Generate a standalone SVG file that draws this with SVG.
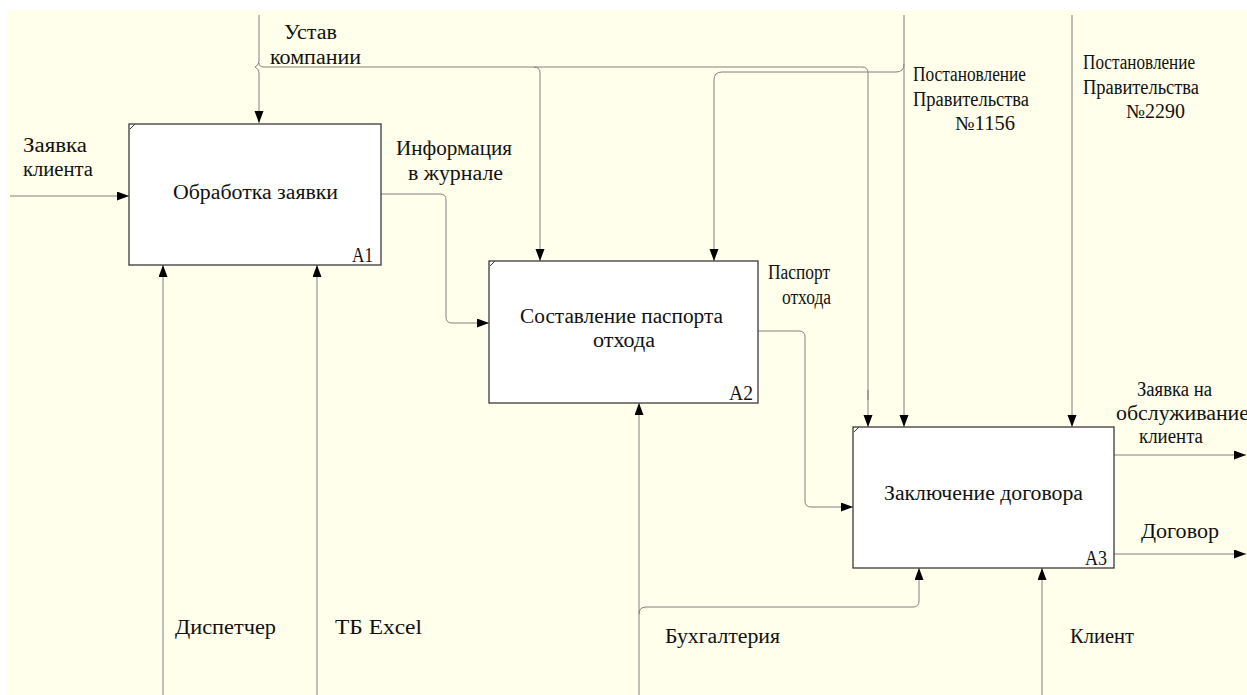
<svg xmlns="http://www.w3.org/2000/svg" width="1247" height="695" viewBox="0 0 1247 695">
  <style>
    .bg { fill: #ffffeb; }
    .box { fill: #ffffff; stroke: #3a3a3a; stroke-width: 1.3; }
    .tick { stroke: #3a3a3a; stroke-width: 1; fill: none; }
    .ln { fill: none; stroke: #808080; stroke-width: 1; }
    .arr { fill: none; stroke: #808080; stroke-width: 1; marker-end: url(#ah); }
    text { font-family: "Liberation Serif", "Times New Roman", serif; font-size: 20px; fill: #111111; }
  </style>
  <defs>
    <marker id="ah" markerUnits="userSpaceOnUse" markerWidth="12" markerHeight="10" refX="12" refY="4.5" orient="auto">
      <path d="M0,0 L12,4.5 L0,9 Z" fill="#000000"/>
    </marker>
  </defs>

  <rect x="0" y="0" width="1247" height="695" fill="#ffffff"/>
  <rect class="bg" x="7" y="10" width="1240" height="685"/>

  <!-- connectors -->
  <g id="connectors">
    <!-- inputs / outputs -->
    <path class="arr" d="M10,196 H129"/>
    <path class="arr" d="M381,194 H440 Q446,194 446,200 V317 Q446,323 452,323 H489"/>
    <path class="arr" d="M758,331 H799 Q805,331 805,337 V501 Q805,507 811,507 H853"/>
    <path class="arr" d="M1114,455 H1246"/>
    <path class="arr" d="M1114,554 H1246"/>

    <!-- controls -->
    <path class="arr" d="M259,15 V61 Q259,65 255,67 Q259,69 259,73 V123"/>
    <path class="ln" d="M259,63 Q259,67 264,67 H862 Q868,67 868,73 V400"/>
    <path class="arr" d="M868,390 V427"/>
    <path class="arr" d="M534,67 Q540,67 540,73 V261"/>
    <path class="arr" d="M904,15 V427"/>
    <path class="arr" d="M904,64 Q904,72 896,72 H722 Q714,72 714,80 V261"/>
    <path class="arr" d="M1072,15 V427"/>

    <!-- mechanisms -->
    <path class="arr" d="M163,695 V265"/>
    <path class="arr" d="M317,695 V265"/>
    <path class="arr" d="M639,695 V403"/>
    <path class="arr" d="M639,614 Q639,607 646,607 H913 Q919,607 919,601 V568"/>
    <path class="arr" d="M1042,695 V568"/>
  </g>

  <!-- nodes -->
  <g id="A1">
    <rect class="box" x="129" y="124" width="252" height="141"/>
    <path class="tick" d="M130,129 L135,124"/>
    <text x="173" y="199" textLength="165" lengthAdjust="spacingAndGlyphs">Обработка заявки</text>
    <text x="352" y="262" textLength="21" lengthAdjust="spacingAndGlyphs">A1</text>
  </g>
  <g id="A2">
    <rect class="box" x="489" y="261" width="269" height="142"/>
    <path class="tick" d="M490,266 L495,261"/>
    <text x="520" y="323" textLength="203" lengthAdjust="spacingAndGlyphs">Составление паспорта</text>
    <text x="593" y="347" textLength="62" lengthAdjust="spacingAndGlyphs">отхода</text>
    <text x="729" y="400" textLength="24" lengthAdjust="spacingAndGlyphs">A2</text>
  </g>
  <g id="A3">
    <rect class="box" x="853" y="427" width="261" height="141"/>
    <path class="tick" d="M854,432 L859,427"/>
    <text x="884" y="500" textLength="199" lengthAdjust="spacingAndGlyphs">Заключение договора</text>
    <text x="1085" y="565" textLength="22" lengthAdjust="spacingAndGlyphs">A3</text>
  </g>

  <!-- arrow labels -->
  <g id="labels">
    <text x="284" y="39" textLength="53" lengthAdjust="spacingAndGlyphs">Устав</text>
    <text x="270" y="64" textLength="91" lengthAdjust="spacingAndGlyphs">компании</text>
    <text x="23" y="152" textLength="64" lengthAdjust="spacingAndGlyphs">Заявка</text>
    <text x="23" y="176" textLength="70" lengthAdjust="spacingAndGlyphs">клиента</text>
    <text x="396" y="155" textLength="116" lengthAdjust="spacingAndGlyphs">Информация</text>
    <text x="408" y="180" textLength="95" lengthAdjust="spacingAndGlyphs">в журнале</text>
    <text x="768" y="279" textLength="62" lengthAdjust="spacingAndGlyphs">Паспорт</text>
    <text x="782" y="304" textLength="49" lengthAdjust="spacingAndGlyphs">отхода</text>
    <text x="913" y="81" textLength="113" lengthAdjust="spacingAndGlyphs">Постановление</text>
    <text x="913" y="106" textLength="116" lengthAdjust="spacingAndGlyphs">Правительства</text>
    <text x="955" y="130" textLength="60" lengthAdjust="spacingAndGlyphs">№1156</text>
    <text x="1083" y="69" textLength="112" lengthAdjust="spacingAndGlyphs">Постановление</text>
    <text x="1083" y="94" textLength="116" lengthAdjust="spacingAndGlyphs">Правительства</text>
    <text x="1126" y="118" textLength="59" lengthAdjust="spacingAndGlyphs">№2290</text>
    <text x="1137" y="396" textLength="75" lengthAdjust="spacingAndGlyphs">Заявка на</text>
    <text x="1116" y="420" textLength="133" lengthAdjust="spacingAndGlyphs">обслуживание</text>
    <text x="1139" y="443" textLength="64" lengthAdjust="spacingAndGlyphs">клиента</text>
    <text x="1141" y="538" textLength="78" lengthAdjust="spacingAndGlyphs">Договор</text>
    <text x="175" y="634" textLength="101" lengthAdjust="spacingAndGlyphs">Диспетчер</text>
    <text x="335" y="634" textLength="87" lengthAdjust="spacingAndGlyphs">ТБ Excel</text>
    <text x="665" y="643" textLength="115" lengthAdjust="spacingAndGlyphs">Бухгалтерия</text>
    <text x="1070" y="643" textLength="64" lengthAdjust="spacingAndGlyphs">Клиент</text>
  </g>
</svg>
